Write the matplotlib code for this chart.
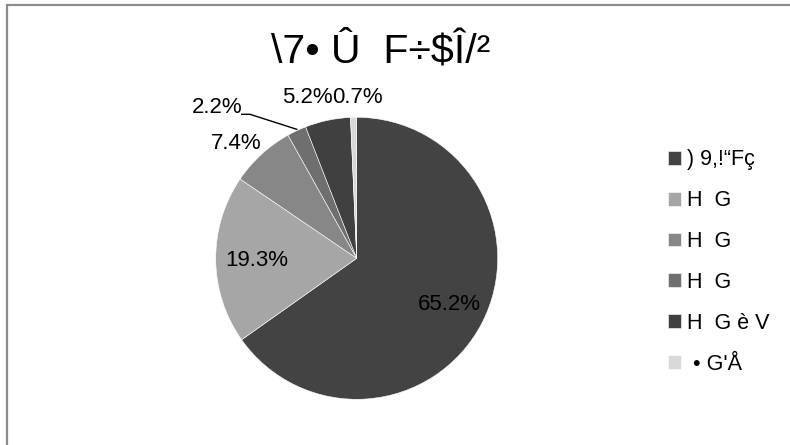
import matplotlib
matplotlib.use('Agg')
import matplotlib.pyplot as plt
from matplotlib.patches import Rectangle

# === DATA ===
title = '\\7• Û  F÷$Î/²'
labels = [') 9,!“Fç', 'H  G', 'H  G', 'H  G', 'H  G è V', ' • G\'Å']
shares = [65.2, 19.3, 7.4, 2.2, 5.2, 0.7]
colors = ['#434343', '#a6a6a6', '#878787', '#6f6f6f', '#404040', '#d9d9d9']

# label spots in pixels (x right, y down)
label_xy = [(449, 305), (256.5, 260), (236, 143.5), (217.5, 107.5), (307.5, 97.5), (357.5, 97.5)]

plt.rcParams['font.family'] = ['Liberation Sans', 'DejaVu Sans']

W, H = 790, 445
fig = plt.figure(figsize=(W / 100, H / 100), dpi=100)
ax = fig.add_axes([0, 0, 1, 1])

wedges, texts, autotexts = ax.pie(
    shares, colors=colors, startangle=90, counterclock=False,
    center=(356.7, H - 258.3), radius=141, autopct='%1.1f%%',
    wedgeprops=dict(edgecolor='white', linewidth=0.4),
    textprops=dict(fontsize=16, color='black'), frame=True)
ax.set_xlim(0, W)
ax.set_ylim(0, H)
ax.set_aspect('auto')
ax.axis('off')

# outer frame (only left and top edges visible)
ax.add_patch(Rectangle((6.7, -10), W + 20, H - 5 + 10, fill=False,
                       edgecolor='#8c8c8c', linewidth=1.6))

for t, (x, y) in zip(autotexts, label_xy):
    t.set_position((x, H - y))
    t.set_ha('center')
    t.set_va('center')

# leader line for the small slice
ax.plot([241.7, 250, 296.7], [H - 114.3, H - 114.3, H - 129.3],
        color='black', linewidth=1)

ax.text(381, H - 62.7, title, fontsize=29.5, ha='center', va='baseline')

ax.legend(wedges, labels, loc='upper left',
          bbox_to_anchor=(668 / W, 1 - 149.5 / H), bbox_transform=fig.transFigure,
          frameon=False, fontsize=15.5, handlelength=0.6, handleheight=0.6,
          handletextpad=0.3, labelspacing=0.92, borderpad=0, borderaxespad=0)

fig.savefig('out.png', dpi=100, facecolor='white')
